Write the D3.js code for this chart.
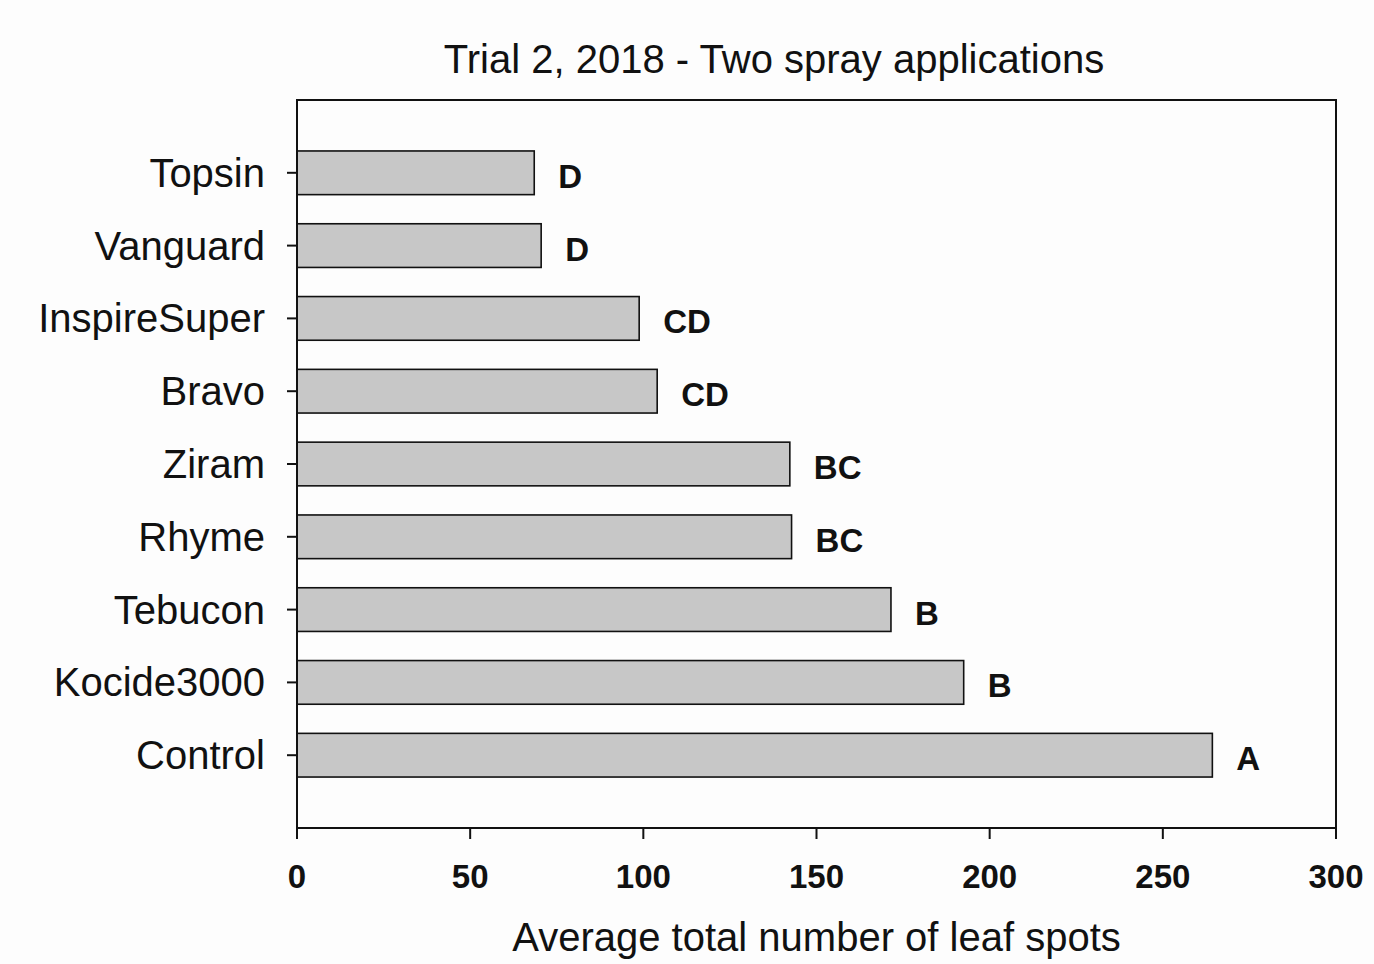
<!DOCTYPE html>
<html>
<head>
<meta charset="utf-8">
<script src="https://cdn.jsdelivr.net/npm/d3@7"></script>
<style>
  body { margin: 0; background: #fdfdfd; }
  svg { display: block; font-family: "Liberation Sans", Arial, sans-serif; }
</style>
</head>
<body>
<svg id="chart" width="1374" height="964"></svg>
<script>
// chart data, top to bottom as drawn
const treatments = ["Topsin", "Vanguard", "InspireSuper", "Bravo", "Ziram", "Rhyme", "Tebucon", "Kocide3000", "Control"];
const leafSpots = [68.5, 70.5, 98.8, 104, 142.3, 142.8, 171.5, 192.5, 264.3];
const groups = ["D", "D", "CD", "CD", "BC", "BC", "B", "B", "A"];
const xTicks = [0, 50, 100, 150, 200, 250, 300];

const svg = d3.select("#chart");
const plotL = 297, plotR = 1336, plotT = 100, plotB = 828;

// x: value scale, y: slot positions (Control at 1, Topsin at 9, axis 0..10)
let x = d3.scaleLinear().domain([0, 300]).range([plotL, plotR]);
let y = d3.scaleLinear().domain([0, 10]).range([plotB, plotT]);
let slot = function (i) { return treatments.length - i; };
let barH = (y(0) - y(1)) * 0.6;

svg.append("rect")
  .attr("width", 1374).attr("height", 964)
  .attr("fill", "#fdfdfd");

// title
svg.append("text")
  .text("Trial 2, 2018 - Two spray applications")
  .attr("x", 774).attr("y", 73)
  .attr("text-anchor", "middle")
  .attr("font-size", 40)
  .attr("fill", "#111");

// bars
svg.selectAll(".bar").data(leafSpots).enter().append("rect")
  .attr("class", "bar")
  .attr("x", x(0))
  .attr("y", function (d, i) { return y(slot(i)) - barH / 2; })
  .attr("width", function (d) { return x(d) - x(0); })
  .attr("height", barH)
  .attr("fill", "#c7c7c7")
  .attr("stroke", "#111")
  .attr("stroke-width", 1.6);

// significance letters
svg.selectAll(".grp").data(groups).enter().append("text")
  .attr("class", "grp")
  .text(function (d) { return d; })
  .attr("x", function (d, i) { return x(leafSpots[i]) + 24; })
  .attr("y", function (d, i) { return y(slot(i)) + 15; })
  .attr("font-size", 33)
  .attr("font-weight", "bold")
  .attr("fill", "#111");

// frame
svg.append("rect")
  .attr("x", plotL).attr("y", plotT)
  .attr("width", plotR - plotL).attr("height", plotB - plotT)
  .attr("fill", "none")
  .attr("stroke", "#111")
  .attr("stroke-width", 2);

// y ticks + category labels
svg.selectAll(".ytick").data(treatments).enter().append("line")
  .attr("class", "ytick")
  .attr("x1", plotL - 10).attr("x2", plotL)
  .attr("y1", function (d, i) { return y(slot(i)); })
  .attr("y2", function (d, i) { return y(slot(i)); })
  .attr("stroke", "#111").attr("stroke-width", 2);

svg.selectAll(".ylab").data(treatments).enter().append("text")
  .attr("class", "ylab")
  .text(function (d) { return d; })
  .attr("x", 265)
  .attr("y", function (d, i) { return y(slot(i)) + 14; })
  .attr("text-anchor", "end")
  .attr("font-size", 40)
  .attr("fill", "#111");

// x ticks + labels
svg.selectAll(".xtick").data(xTicks).enter().append("line")
  .attr("class", "xtick")
  .attr("x1", function (d) { return x(d); })
  .attr("x2", function (d) { return x(d); })
  .attr("y1", plotB).attr("y2", plotB + 11)
  .attr("stroke", "#111").attr("stroke-width", 2);

svg.selectAll(".xlab").data(xTicks).enter().append("text")
  .attr("class", "xlab")
  .text(function (d) { return d; })
  .attr("x", function (d) { return x(d); })
  .attr("y", 888)
  .attr("text-anchor", "middle")
  .attr("font-size", 33)
  .attr("font-weight", "bold")
  .attr("fill", "#111");

// axis title
svg.append("text")
  .text("Average total number of leaf spots")
  .attr("x", (plotL + plotR) / 2).attr("y", 951)
  .attr("text-anchor", "middle")
  .attr("font-size", 40)
  .attr("fill", "#111");
</script>
</body>
</html>
